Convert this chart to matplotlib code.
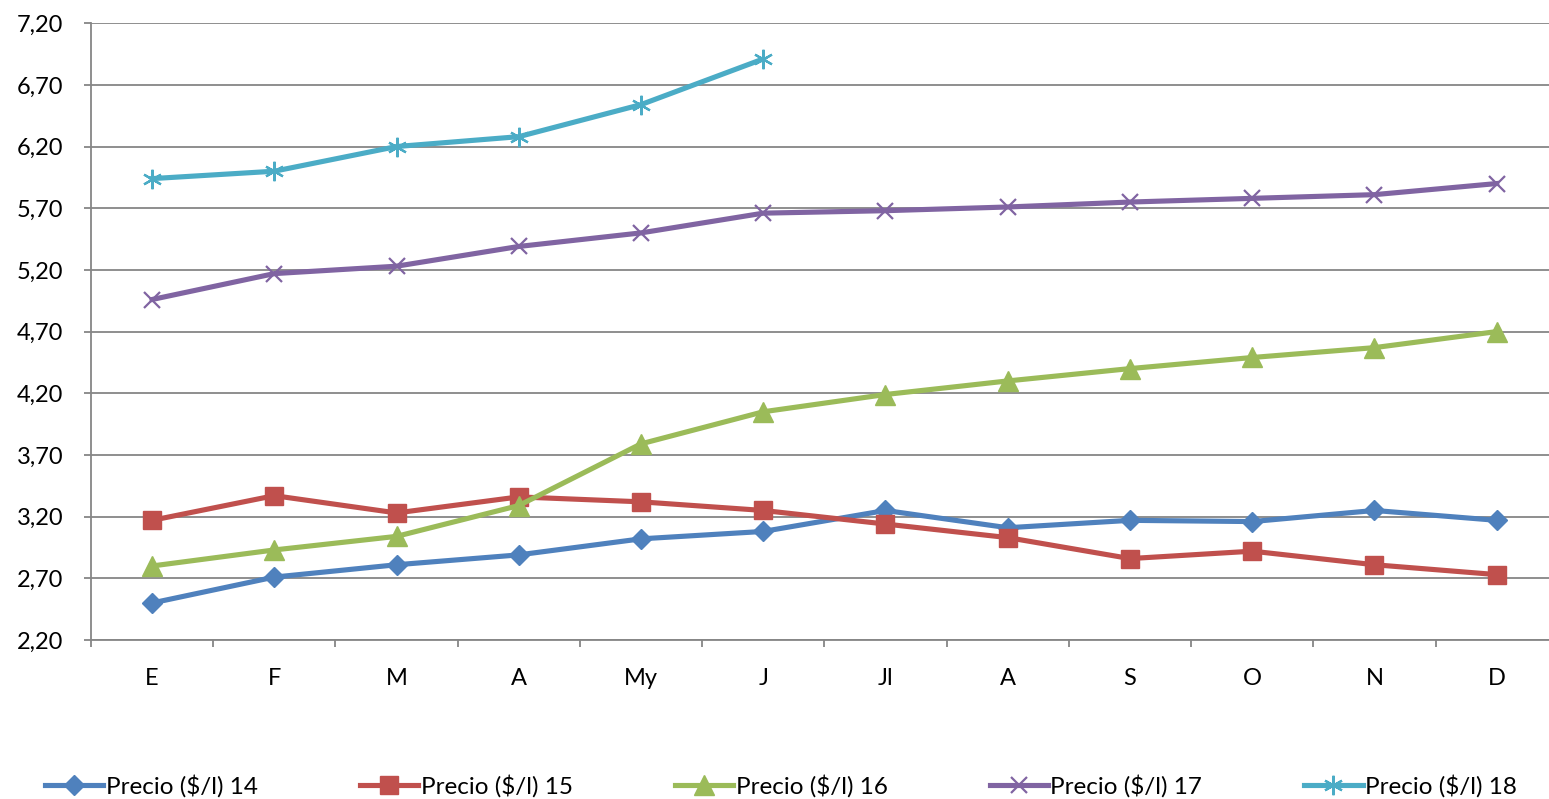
import matplotlib
matplotlib.use("Agg")
import matplotlib.pyplot as plt
from matplotlib.ticker import FixedLocator, FuncFormatter

plt.rcParams['font.family'] = ['Lato', 'DejaVu Sans']

months = ["E", "F", "M", "A", "My", "J", "Jl", "A", "S", "O", "N", "D"]

precio_14 = [2.50, 2.71, 2.81, 2.89, 3.02, 3.08, 3.25, 3.11, 3.17, 3.16, 3.25, 3.17]
precio_15 = [3.17, 3.37, 3.23, 3.36, 3.32, 3.25, 3.14, 3.03, 2.86, 2.92, 2.81, 2.73]
precio_16 = [2.80, 2.93, 3.04, 3.29, 3.79, 4.05, 4.19, 4.30, 4.40, 4.49, 4.57, 4.70]
precio_17 = [4.96, 5.17, 5.23, 5.39, 5.50, 5.66, 5.68, 5.71, 5.75, 5.78, 5.81, 5.90]
precio_18 = [5.94, 6.00, 6.20, 6.28, 6.54, 6.91]

labels = ["Precio ($/l) 14", "Precio ($/l) 15", "Precio ($/l) 16",
          "Precio ($/l) 17", "Precio ($/l) 18"]
yticks = [2.20, 2.70, 3.20, 3.70, 4.20, 4.70, 5.20, 5.70, 6.20, 6.70, 7.20]

fig = plt.figure(figsize=(15.49, 7.99), dpi=100)
# plot area runs slightly past the right edge of the image, as in the reference
ax = fig.add_axes([0.0587, 0.199, 0.947, 0.772])

x = list(range(len(months)))
ax.plot(x, precio_14, color="#4F81BD", lw=3.7, marker="D", ms=10, label=labels[0])
ax.plot(x, precio_15, color="#C0504D", lw=3.7, marker="s", ms=13, label=labels[1])
ax.plot(x, precio_16, color="#9BBB59", lw=3.7, marker="^", ms=14, label=labels[2])
ax.plot(x, precio_17, color="#8064A2", lw=3.7, marker="x", ms=12, mew=1.6, label=labels[3])
ax.plot(x[:len(precio_18)], precio_18, color="#4BACC6", lw=3.7, marker=(6, 2, 0),
        ms=14, mew=1.6, label=labels[4])

ax.set_xlim(-0.5, len(months) - 0.5)
ax.set_ylim(2.20, 7.20)
ax.set_yticks(yticks)
ax.yaxis.set_major_formatter(FuncFormatter(lambda v, p: f"{v:.2f}".replace(".", ",")))
ax.set_xticks(x)
ax.set_xticklabels(months)
ax.xaxis.set_minor_locator(FixedLocator([i - 0.5 for i in range(len(months) + 1)]))
ax.tick_params(axis="x", which="major", length=0, pad=20, labelsize=17)
ax.tick_params(axis="x", which="minor", length=5, color="#868686", width=1.3)
ax.tick_params(axis="y", length=5, color="#868686", width=1.3, labelsize=17, pad=15)
ax.grid(axis="y", color="#868686", lw=1.3)
ax.set_axisbelow(True)
for s in ["top", "right"]:
    ax.spines[s].set_visible(False)
for s in ["left", "bottom"]:
    ax.spines[s].set_color("#868686")
    ax.spines[s].set_linewidth(1.3)

fig.legend(loc="lower left", ncol=5, frameon=False, fontsize=17.5,
           bbox_to_anchor=(0.015, -0.025), handlelength=2.4, handletextpad=0.1,
           columnspacing=4.2)

fig.savefig("out.png", dpi=100)
